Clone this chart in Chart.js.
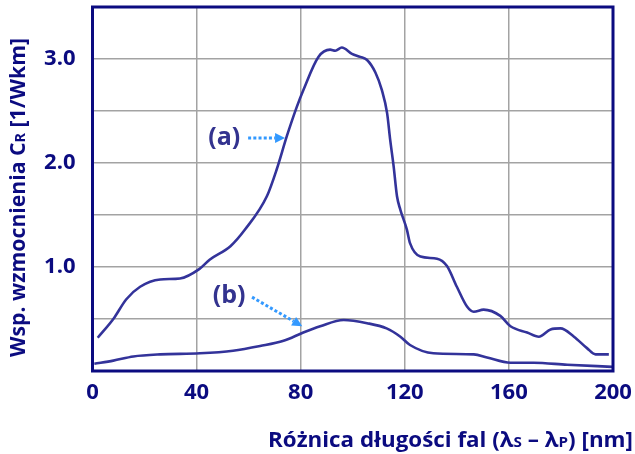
<!DOCTYPE html>
<html>
<head>
<meta charset="utf-8">
<script src="https://cdn.jsdelivr.net/npm/chart.js@4/dist/chart.umd.min.js"></script>
<style>
html,body{margin:0;padding:0;background:#fff;}
#wrap{width:635px;height:454px;}
</style>
</head>
<body>
<div id="wrap"><canvas id="c" width="635" height="454"></canvas></div>
<script>
// ---- data ----
const xA = [2, 8, 13, 18.3, 26, 33.6, 41, 45, 53, 58.6, 67, 70.8, 74.7, 78.5, 81, 86.8, 91.3, 93.3, 95.8, 99.7, 102.9, 105.5, 108.7, 111.2, 113.2, 114.4, 115.7, 117, 118.3, 120.8, 122, 126, 132.4, 136.2, 140, 143.9, 146.5, 150.3, 156.7, 160.6, 167, 171.5, 176, 179.8, 185, 190, 193.3, 198.4];
const yA = [0.32, 0.5, 0.69, 0.81, 0.88, 0.89, 0.98, 1.07, 1.2, 1.36, 1.68, 1.94, 2.26, 2.54, 2.7, 3.02, 3.09, 3.08, 3.11, 3.05, 3.02, 2.99, 2.87, 2.70, 2.48, 2.22, 1.97, 1.68, 1.55, 1.36, 1.23, 1.10, 1.08, 1.01, 0.81, 0.62, 0.57, 0.59, 0.53, 0.43, 0.37, 0.33, 0.40, 0.41, 0.33, 0.22, 0.16, 0.16];
const xB = [0.7, 8, 15.7, 26, 41.3, 54, 64.4, 73.4, 81, 87.5, 96.5, 105.5, 113, 118.3, 122, 131, 146.5, 151.6, 160.6, 169.5, 182.4, 199.7];
const yB = [0.07, 0.10, 0.14, 0.16, 0.17, 0.195, 0.24, 0.29, 0.37, 0.43, 0.49, 0.46, 0.41, 0.33, 0.25, 0.17, 0.16, 0.13, 0.08, 0.08, 0.06, 0.04];
const xTicks = [0, 40, 80, 120, 160, 200];
const yTickLabels = [1.0, 2.0, 3.0];
const seriesLabels = ['(a)', '(b)'];
// annotation anchors in data units: [labelX, labelY, arrowFromX, arrowFromY, arrowToX, arrowToY]
const annA = [50.6, 2.24, 59.8, 2.24, 74.0, 2.24];
const annB = [52.5, 0.72, 61.3, 0.71, 80.6, 0.43];
const yTitle = [['Wsp. wzmocnienia C', false], ['R', true], [' [1/Wkm]', false]];
const xTitle = [['Różnica długości fal (λ', false], ['S', true], [' – λ', false], ['P', true], [') [nm]', false]];

const NAVY = '#0b0b80';
const LINE = '#33339a';
const FONT = '"Open Sans"';

function toPts(xs, ys){ return xs.map((x,i)=>({x:x, y:ys[i]})); }

function richWidth(ctx, segs, size){
  let w = 0;
  segs.forEach(([t, sub])=>{
    ctx.font = 'bold ' + (sub ? size*0.68 : size) + 'px ' + FONT;
    w += ctx.measureText(t).width;
  });
  return w;
}
function drawRich(ctx, segs, size, y){
  let cx = 0;
  segs.forEach(([t, sub])=>{
    ctx.font = 'bold ' + (sub ? size*0.68 : size) + 'px ' + FONT;
    ctx.fillText(t, cx, sub ? y + size*0.02 : y);
    cx += ctx.measureText(t).width;
  });
}
// draw rich text starting at current origin, squeezed horizontally to a target width
function drawFitted(ctx, segs, size, target){
  const w = richWidth(ctx, segs, size);
  ctx.save();
  ctx.scale(target / w, 1);
  drawRich(ctx, segs, size, 0);
  ctx.restore();
}

function arrow(ctx, x1, y1, x2, y2){
  const ang = Math.atan2(y2-y1, x2-x1);
  const head = 10;
  const bx = x2 - head*Math.cos(ang), by = y2 - head*Math.sin(ang);
  ctx.save();
  ctx.strokeStyle = '#3399ff';
  ctx.fillStyle = '#3399ff';
  ctx.lineWidth = 3;
  ctx.setLineDash([3, 2.2]);
  ctx.beginPath(); ctx.moveTo(x1, y1); ctx.lineTo(bx, by); ctx.stroke();
  ctx.setLineDash([]);
  ctx.beginPath();
  ctx.moveTo(x2, y2);
  ctx.lineTo(bx + 5*Math.sin(ang), by - 5*Math.cos(ang));
  ctx.lineTo(bx - 5*Math.sin(ang), by + 5*Math.cos(ang));
  ctx.closePath(); ctx.fill();
  ctx.restore();
}

const deco = {
  id: 'deco',
  afterDraw(chart){
    const ctx = chart.ctx;
    const a = chart.chartArea;
    const xs = chart.scales.x, ys = chart.scales.y;
    // frame
    ctx.save();
    ctx.strokeStyle = NAVY;
    ctx.lineWidth = 3;
    ctx.strokeRect(a.left, a.top, a.right - a.left, a.bottom - a.top);
    ctx.restore();
    // annotations
    [[annA, seriesLabels[0]], [annB, seriesLabels[1]]].forEach(([an, lab])=>{
      ctx.save();
      ctx.fillStyle = '#33338f';
      ctx.font = 'bold 25px ' + FONT;
      ctx.textAlign = 'center';
      ctx.textBaseline = 'middle';
      ctx.fillText(lab, xs.getPixelForValue(an[0]), ys.getPixelForValue(an[1]));
      ctx.restore();
      arrow(ctx, xs.getPixelForValue(an[2]), ys.getPixelForValue(an[3]), xs.getPixelForValue(an[4]), ys.getPixelForValue(an[5]));
    });
    // titles
    ctx.save();
    ctx.fillStyle = NAVY;
    ctx.textAlign = 'left';
    ctx.textBaseline = 'alphabetic';
    ctx.save();
    ctx.translate(268, 447);
    drawFitted(ctx, xTitle, 21, 365);
    ctx.restore();
    ctx.save();
    ctx.translate(25, 357);
    ctx.rotate(-Math.PI/2);
    drawFitted(ctx, yTitle, 21.5, 319);
    ctx.restore();
    ctx.restore();
  }
};

new Chart(document.getElementById('c'), {
  type: 'line',
  data: {
    datasets: [
      { label: seriesLabels[0], data: toPts(xA, yA), borderColor: LINE, borderWidth: 2.6, pointRadius: 0, fill: false, cubicInterpolationMode: 'monotone' },
      { label: seriesLabels[1], data: toPts(xB, yB), borderColor: LINE, borderWidth: 2.6, pointRadius: 0, fill: false, cubicInterpolationMode: 'monotone' }
    ]
  },
  options: {
    responsive: false,
    devicePixelRatio: 1,
    animation: false,
    layout: { padding: { top: 7, right: 22, left: 0, bottom: 0 } },
    plugins: { legend: { display: false }, tooltip: { enabled: false } },
    scales: {
      x: {
        type: 'linear', min: 0, max: 200,
        afterBuildTicks(s){ s.ticks = xTicks.map(v=>({value:v})); },
        afterFit(s){ s.height = 83; s.paddingLeft = 0; s.paddingRight = 0; },
        grid: { color: '#a3a3a3', lineWidth: 1.5, drawTicks: false },
        border: { display: false },
        ticks: { color: NAVY, font: { family: 'Open Sans', size: 22, weight: 'bold' }, padding: 9, maxRotation: 0 }
      },
      y: {
        type: 'linear', min: 0, max: 3.5,
        ticks: {
          stepSize: 0.5, color: NAVY, font: { family: 'Open Sans', size: 22, weight: 'bold' }, padding: 17,
          callback(v){ return yTickLabels.includes(v) ? v.toFixed(1) : ''; }
        },
        afterFit(s){ s.width = 92.5; s.paddingTop = 0; s.paddingBottom = 0; },
        grid: { color: '#a3a3a3', lineWidth: 1.5, drawTicks: false },
        border: { display: false }
      }
    }
  },
  plugins: [deco]
});
</script>
</body>
</html>
